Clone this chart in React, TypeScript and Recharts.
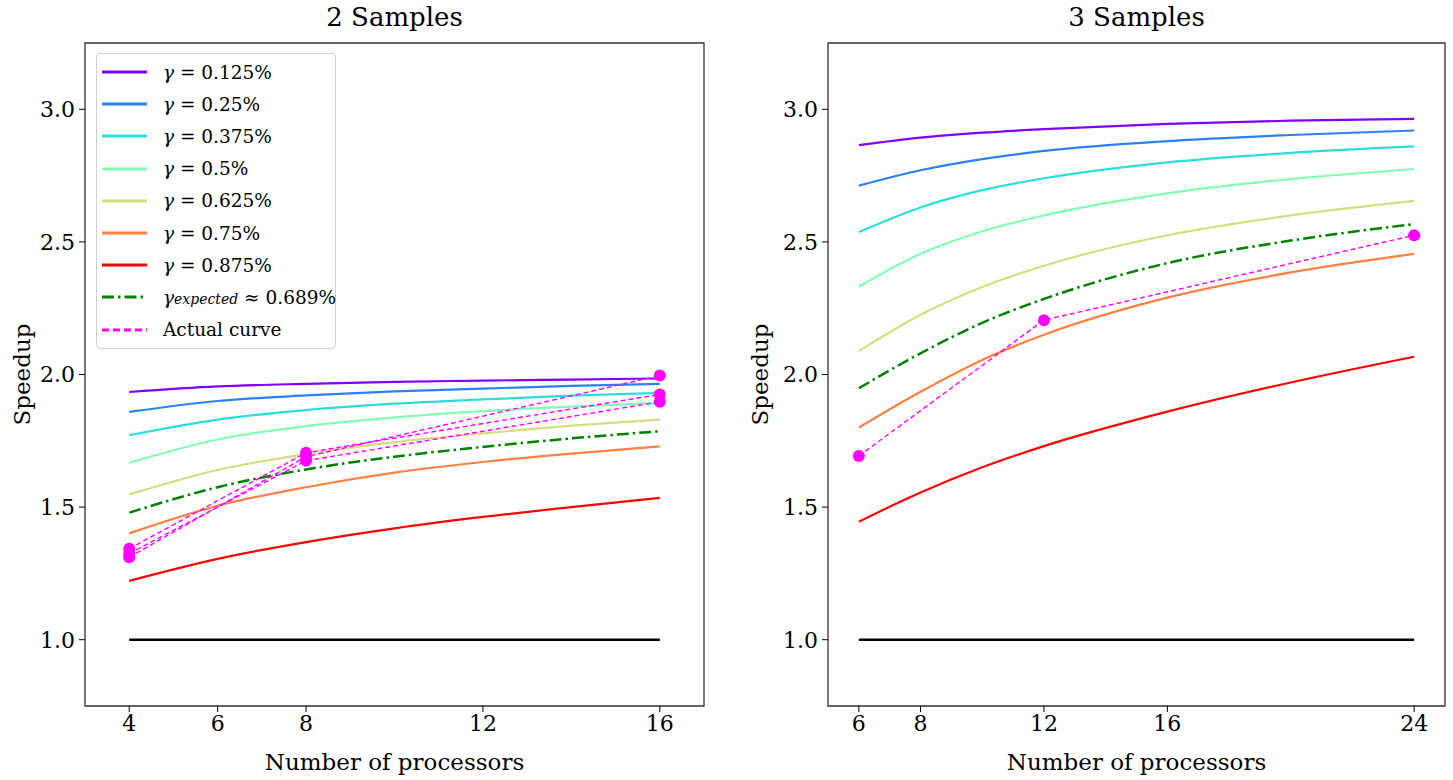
import React from 'react';
import { LineChart, Line, XAxis, YAxis, ReferenceArea } from 'recharts';

// gamma labels shared by both panels
const GAMMA_LABELS = ['0.125%', '0.25%', '0.375%', '0.5%', '0.625%', '0.75%', '0.875%'];
const EXPECTED_LABEL = '0.689%';

// 2 samples panel
const LEFT_X = [4, 6, 8, 10, 12, 14, 16];
const LEFT_G1 = [1.934, 1.955, 1.965, 1.972, 1.977, 1.981, 1.985];
const LEFT_G2 = [1.859, 1.9, 1.921, 1.936, 1.947, 1.957, 1.965];
const LEFT_G3 = [1.771, 1.83, 1.866, 1.89, 1.906, 1.92, 1.931];
const LEFT_G4 = [1.667, 1.755, 1.805, 1.838, 1.862, 1.879, 1.893];
const LEFT_G5 = [1.548, 1.64, 1.7, 1.745, 1.778, 1.807, 1.83];
const LEFT_G6 = [1.401, 1.505, 1.575, 1.63, 1.67, 1.702, 1.729];
const LEFT_G7 = [1.222, 1.305, 1.368, 1.42, 1.463, 1.5, 1.535];
const LEFT_EXP = [1.479, 1.575, 1.642, 1.69, 1.727, 1.759, 1.786];
const LEFT_ACTUAL_X = [4, 8, 16];
const LEFT_ACTUAL_A = [1.311, 1.69, 1.996];
const LEFT_ACTUAL_B = [1.343, 1.705, 1.925];
const LEFT_ACTUAL_C = [1.325, 1.675, 1.897];
const LEFT_TICKS = [4, 6, 8, 12, 16];

// 3 samples panel
const RIGHT_X = [6, 8, 10, 12, 16, 20, 24];
const RIGHT_G1 = [2.865, 2.893, 2.912, 2.925, 2.945, 2.957, 2.964];
const RIGHT_G2 = [2.712, 2.77, 2.812, 2.843, 2.88, 2.903, 2.92];
const RIGHT_G3 = [2.537, 2.63, 2.695, 2.74, 2.8, 2.836, 2.86];
const RIGHT_G4 = [2.331, 2.455, 2.54, 2.6, 2.683, 2.737, 2.775];
const RIGHT_G5 = [2.088, 2.225, 2.33, 2.41, 2.525, 2.6, 2.655];
const RIGHT_G6 = [1.8, 1.935, 2.055, 2.15, 2.29, 2.385, 2.455];
const RIGHT_G7 = [1.445, 1.555, 1.65, 1.73, 1.86, 1.97, 2.067];
const RIGHT_EXP = [1.948, 2.08, 2.195, 2.285, 2.42, 2.505, 2.567];
const RIGHT_ACTUAL_X = [6, 12, 24];
const RIGHT_ACTUAL = [1.693, 2.205, 2.525];
const RIGHT_TICKS = [6, 8, 12, 16, 24];

const Y_TICKS = [1.0, 1.5, 2.0, 2.5, 3.0];

const COLORS = ['#8000ff', '#2a80f6', '#2bdddd', '#80ffb4', '#d4dd80', '#ff8042', '#ff0000'];
const EXP_COLOR = '#008000';
const ACTUAL_COLOR = '#ff00ff';
const FONT = '"DejaVu Serif", serif';

const toRows = (xs: number[], series: number[][], exp: number[]) =>
  xs.map((x, i) => {
    const row: Record<string, number> = { x, exp: exp[i] };
    series.forEach((s, k) => (row['g' + k] = s[i]));
    return row;
  });

const toPoints = (xs: number[], ys: number[]) => xs.map((x, i) => ({ x, y: ys[i] }));

const tickStyle = { fill: '#000', fontSize: 22, fontFamily: FONT };

type PanelProps = {
  left: number;
  width: number;
  yAxisWidth: number;
  title: string;
  domain: [number, number];
  ticks: number[];
  rows: Record<string, number>[];
  baseline: { x: number; y: number }[];
  actuals: { x: number; y: number }[][];
  ylabelOffset: number;
};

const Panel: React.FC<PanelProps> = (p) => {
  const plotLeft = p.yAxisWidth;
  const plotRight = p.width - 8;
  return (
    <div style={{ position: 'absolute', left: p.left, top: 0, width: p.width, height: 780 }}>
      <div
        style={{
          position: 'absolute',
          left: plotLeft,
          width: plotRight - plotLeft,
          top: 2,
          textAlign: 'center',
          fontFamily: FONT,
          fontSize: 26,
          color: '#000',
        }}
      >
        {p.title}
      </div>
      <LineChart width={p.width} height={780} data={p.rows} margin={{ top: 43, right: 8, bottom: 0, left: 0 }}>
        <XAxis
          dataKey="x"
          type="number"
          domain={p.domain}
          ticks={p.ticks}
          allowDataOverflow
          height={74}
          axisLine={false}
          tickSize={6}
          tickMargin={3}
          tickLine={{ stroke: '#000' }}
          tick={tickStyle}
          label={{ value: 'Number of processors', position: 'insideBottom', offset: 10, style: { fill: '#000', fontSize: 23, fontFamily: FONT } }}
        />
        <YAxis
          type="number"
          domain={[0.75, 3.25]}
          ticks={Y_TICKS}
          allowDataOverflow
          width={p.yAxisWidth}
          axisLine={false}
          tickSize={6}
          tickMargin={4}
          tickLine={{ stroke: '#000' }}
          tick={tickStyle}
          tickFormatter={(v: number) => v.toFixed(1)}
          label={{ value: 'Speedup', angle: -90, position: 'insideLeft', offset: p.ylabelOffset, style: { textAnchor: 'middle', fill: '#000', fontSize: 23, fontFamily: FONT } }}
        />
        <ReferenceArea x1={p.domain[0]} x2={p.domain[1]} y1={0.75} y2={3.25} fill="none" stroke="#333" strokeWidth={1.3} />
        <Line data={p.baseline} dataKey="y" stroke="#000" strokeWidth={2.5} dot={false} isAnimationActive={false} />
        {COLORS.map((c, k) => (
          <Line key={k} dataKey={'g' + k} type="monotone" stroke={c} strokeWidth={2.2} dot={false} isAnimationActive={false} />
        ))}
        <Line dataKey="exp" type="monotone" stroke={EXP_COLOR} strokeWidth={2.5} strokeDasharray="12 4 2.5 4" dot={false} isAnimationActive={false} />
        {p.actuals.map((pts, k) => (
          <Line
            key={'a' + k}
            data={pts}
            dataKey="y"
            stroke={ACTUAL_COLOR}
            strokeWidth={1.4}
            strokeDasharray="5 3"
            dot={{ r: 6, fill: ACTUAL_COLOR, stroke: ACTUAL_COLOR, strokeWidth: 0, strokeDasharray: '' }}
            isAnimationActive={false}
          />
        ))}
      </LineChart>
    </div>
  );
};

const LegendRow: React.FC<{ color: string; dash?: string; width?: number; children: React.ReactNode }> = ({ color, dash, width = 2.8, children }) => (
  <div style={{ display: 'flex', alignItems: 'center', height: 32.2 }}>
    <svg width={52} height={10} style={{ flex: 'none' }}>
      <line x1={5} y1={5} x2={50} y2={5} stroke={color} strokeWidth={width} strokeDasharray={dash} />
    </svg>
    <span style={{ marginLeft: 14, whiteSpace: 'nowrap' }}>{children}</span>
  </div>
);

const LegendBox: React.FC = () => (
  <div
    style={{
      position: 'absolute',
      left: 96,
      top: 53,
      width: 240,
      height: 296,
      border: '1px solid #d0d0d0',
      borderRadius: 4,
      background: 'rgba(255,255,255,0.85)',
      fontFamily: FONT,
      fontSize: 18.5,
      color: '#000',
      paddingTop: 2,
      boxSizing: 'border-box',
    }}
  >
    {GAMMA_LABELS.map((g, k) => (
      <LegendRow key={g} color={COLORS[k]}>
        <i>γ</i> = {g}
      </LegendRow>
    ))}
    <LegendRow color={EXP_COLOR} dash="12 4 2.5 4" width={3}>
      <i>γ</i>
      <i style={{ fontSize: 14 }}>expected</i> ≈ {EXPECTED_LABEL}
    </LegendRow>
    <LegendRow color={ACTUAL_COLOR} dash="7 4">
      Actual curve
    </LegendRow>
  </div>
);

const leftRows = toRows(LEFT_X, [LEFT_G1, LEFT_G2, LEFT_G3, LEFT_G4, LEFT_G5, LEFT_G6, LEFT_G7], LEFT_EXP);
const rightRows = toRows(RIGHT_X, [RIGHT_G1, RIGHT_G2, RIGHT_G3, RIGHT_G4, RIGHT_G5, RIGHT_G6, RIGHT_G7], RIGHT_EXP);

export default function App() {
  return (
    <div style={{ position: 'absolute', left: 0, top: 0, width: 1453, height: 780, background: '#fff' }}>
      <Panel
        left={0}
        width={712}
        yAxisWidth={85}
        title="2 Samples"
        domain={[3, 17]}
        ticks={LEFT_TICKS}
        rows={leftRows}
        baseline={toPoints([4, 16], [1, 1])}
        actuals={[
          toPoints(LEFT_ACTUAL_X, LEFT_ACTUAL_A),
          toPoints(LEFT_ACTUAL_X, LEFT_ACTUAL_B),
          toPoints(LEFT_ACTUAL_X, LEFT_ACTUAL_C),
        ]}
        ylabelOffset={22}
      />
      <Panel
        left={740}
        width={713}
        yAxisWidth={88}
        title="3 Samples"
        domain={[5, 25]}
        ticks={RIGHT_TICKS}
        rows={rightRows}
        baseline={toPoints([6, 24], [1, 1])}
        actuals={[toPoints(RIGHT_ACTUAL_X, RIGHT_ACTUAL)]}
        ylabelOffset={20}
      />
      <LegendBox />
    </div>
  );
}
